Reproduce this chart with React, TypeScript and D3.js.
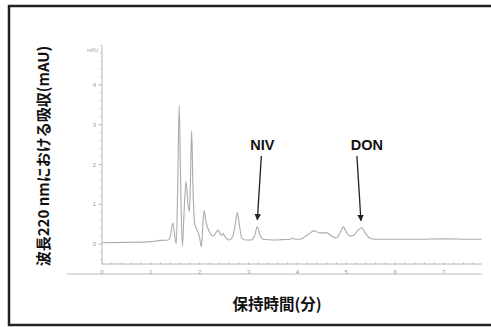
import React from "react";
import * as d3 from "d3";

const times = [0.0, 0.5, 1.0, 1.2, 1.35, 1.4, 1.45, 1.49, 1.52, 1.55, 1.58, 1.61, 1.645, 1.68, 1.72, 1.76, 1.79, 1.81, 1.835, 1.86, 1.9, 1.95, 2.0, 2.035, 2.06, 2.09, 2.13, 2.2, 2.28, 2.34, 2.38, 2.42, 2.45, 2.48, 2.52, 2.6, 2.68, 2.74, 2.77, 2.81, 2.86, 2.95, 3.05, 3.12, 3.18, 3.24, 3.3, 3.5, 3.7, 3.85, 3.9, 3.95, 4.05, 4.2, 4.34, 4.45, 4.6, 4.72, 4.8, 4.88, 4.94, 5.0, 5.08, 5.15, 5.25, 5.32, 5.4, 5.5, 5.6, 6.0, 6.5, 7.0, 7.5, 7.77];
const signal = [0.03, 0.04, 0.06, 0.09, 0.1, 0.2, 0.53, 0.2, 0.0, 1.5, 3.49, 1.5, -0.05, 0.8, 1.57, 1.0, 0.81, 1.6, 2.85, 1.5, 0.5, 0.35, 0.15, -0.07, 0.4, 0.84, 0.55, 0.3, 0.2, 0.3, 0.35, 0.25, 0.22, 0.26, 0.18, 0.1, 0.2, 0.6, 0.79, 0.5, 0.15, 0.1, 0.1, 0.2, 0.43, 0.2, 0.12, 0.1, 0.11, 0.12, 0.15, 0.12, 0.12, 0.22, 0.33, 0.28, 0.28, 0.18, 0.15, 0.3, 0.43, 0.3, 0.2, 0.22, 0.36, 0.41, 0.25, 0.14, 0.12, 0.12, 0.12, 0.13, 0.12, 0.12];

const yTicks = [0, 1, 2, 3, 4];
const xTicks = [0, 1, 2, 3, 4, 5, 6, 7];
const annotations = [
  { label: "NIV", time: 3.18, value: 0.43 },
  { label: "DON", time: 5.32, value: 0.41 },
];
const yTitle = "波長220 nmにおける吸収(mAU)";
const xTitle = "保持時間(分)";
const unitLabel = "mAU";

export default function App() {
  const x = d3.scaleLinear().domain([0, 7]).range([102, 444]);
  const y = d3.scaleLinear().domain([0, 4]).range([244, 85]);
  const xEnd = 7.77;
  const rulerY = 264;
  const lowerY = 274;

  const data = times.map((t, i) => [t, signal[i]] as [number, number]);
  const line = d3
    .line<[number, number]>()
    .x((d) => x(d[0]))
    .y((d) => y(d[1]))
    .curve(d3.curveMonotoneX);

  const yMinor = d3.range(-0.4, 5.0001, 0.2);
  const xMinor = d3.range(0, xEnd, 0.2);

  const axisColor = "#b8b8b8";
  const tickTextColor = "#999";

  return (
    <svg
      width={491}
      height={327}
      style={{ position: "absolute", left: 0, top: 0, background: "#fff" }}
    >
      <defs>
        <marker
          id="arrow"
          viewBox="0 0 10 10"
          refX="9"
          refY="5"
          markerWidth="5"
          markerHeight="5"
          orient="auto"
        >
          <path d="M0,0 L10,5 L0,10 z" fill="#222" />
        </marker>
      </defs>
      <rect x={9} y={6} width={500} height={319} fill="none" stroke="#222" strokeWidth={2.5} />

      {/* y axis */}
      <line x1={x(0)} x2={x(0)} y1={y(5.0)} y2={rulerY} stroke={axisColor} strokeWidth={1} />
      {yMinor.map((v, i) => (
        <line key={"ym" + i} x1={x(0) - 2} x2={x(0)} y1={y(v)} y2={y(v)} stroke={axisColor} strokeWidth={0.7} />
      ))}
      {yTicks.map((v) => (
        <g key={"yt" + v}>
          <line x1={x(0) - 4} x2={x(0)} y1={y(v)} y2={y(v)} stroke={axisColor} strokeWidth={0.8} />
          <text x={x(0) - 6} y={y(v)} dy="0.35em" textAnchor="end" fontSize={6} fill={tickTextColor} fontFamily="Liberation Sans, Arial, sans-serif">
            {v}
          </text>
        </g>
      ))}
      <text x={x(0) - 4} y={y(4.87)} dy="0.35em" textAnchor="end" fontSize={5} fill={tickTextColor} fontFamily="Liberation Sans, Arial, sans-serif">
        {unitLabel}
      </text>

      {/* x ruler */}
      <line x1={x(0)} x2={x(xEnd)} y1={rulerY} y2={rulerY} stroke={axisColor} strokeWidth={1} />
      {xMinor.map((v, i) => (
        <line key={"xm" + i} x1={x(v)} x2={x(v)} y1={rulerY - 2} y2={rulerY + 1} stroke={axisColor} strokeWidth={0.7} />
      ))}
      {xTicks.map((v) => (
        <text key={"xt" + v} x={x(v)} y={272} dy="0.35em" textAnchor="middle" fontSize={6} fill={tickTextColor} fontFamily="Liberation Sans, Arial, sans-serif">
          {v}
        </text>
      ))}
      <line x1={67} x2={x(xEnd)} y1={lowerY} y2={lowerY} stroke={axisColor} strokeWidth={1} />

      {/* trace */}
      <path d={line(data) || ""} fill="none" stroke="#aaa" strokeWidth={1.1} />

      {/* annotations */}
      {annotations.map((a, i) => (
        <g key={"an" + i}>
          <text x={x(a.time) + 5} y={150} textAnchor="middle" fontSize={14.5} fontWeight="bold" fill="#111" fontFamily="Liberation Sans, Arial, sans-serif">
            {a.label}
          </text>
          <line
            x1={x(a.time) + (i === 0 ? 4 : -5)}
            y1={156}
            x2={x(a.time) + (i === 0 ? 0 : -1)}
            y2={y(a.value) - 7}
            stroke="#222"
            strokeWidth={1.3}
            markerEnd="url(#arrow)"
          />
        </g>
      ))}

      {/* titles */}
      <text
        transform={`translate(44,156) rotate(-90)`}
        textAnchor="middle"
        dy="0.35em"
        fontSize={15}
        fontWeight="bold"
        fill="#111"
        fontFamily="Noto Sans CJK JP, sans-serif"
      >
        {yTitle}
      </text>
      <text x={277} y={305} textAnchor="middle" dy="0.35em" fontSize={15.5} fontWeight="bold" fill="#111" fontFamily="Noto Sans CJK JP, sans-serif">
        {xTitle}
      </text>
    </svg>
  );
}
